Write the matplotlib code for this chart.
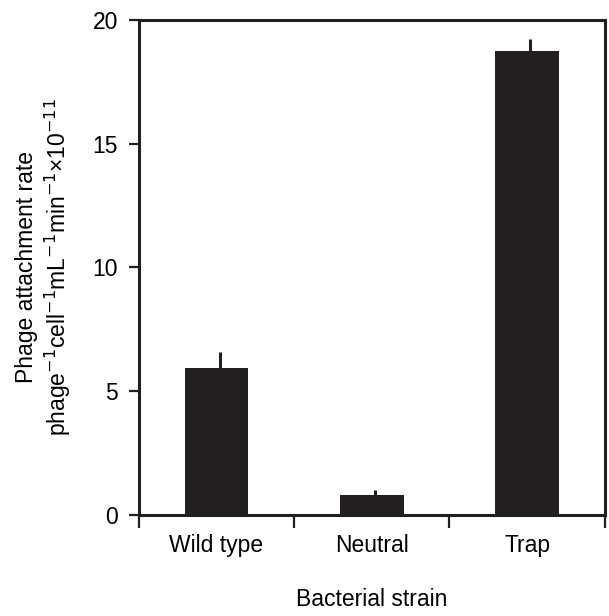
import numpy as np
import matplotlib.pyplot as plt

plt.rcParams['font.family'] = ['Liberation Sans', 'DejaVu Sans']

strains = ['Wild type', 'Neutral', 'Trap']
rates = [5.95, 0.8, 18.75]
errors = [0.65, 0.2, 0.48]

fig = plt.figure(figsize=(6.09, 6.16), dpi=100)
ax = fig.add_axes([0.228, 0.164, 0.765, 0.8035])

x = np.arange(len(strains))
ax.bar(x, rates, width=0.41, color='#231f20', zorder=2)
# upward-only error bars, no caps
ax.errorbar(x + 0.02, rates, yerr=[np.zeros(len(errors)), errors], fmt='none',
            ecolor='#231f20', elinewidth=2.2, capsize=0, zorder=1)

ax.set_xlim(-0.5, 2.5)
ax.set_ylim(0, 20)
ax.set_yticks([0, 5, 10, 15, 20])

ax.set_xticks([-0.5, 0.5, 1.5, 2.5])
ax.set_xticklabels([])
ax.set_xticks(x, minor=True)
ax.set_xticklabels(strains, minor=True)
ax.tick_params(axis='x', which='major', direction='out', length=9, width=1.6, color='#231f20')
ax.tick_params(axis='x', which='minor', length=0, pad=14, labelsize=16.5)
ax.tick_params(axis='y', direction='out', length=7, width=1.6, color='#231f20', labelsize=16.5, pad=8)

for s in ax.spines.values():
    s.set_linewidth(2.2)
    s.set_color('#231f20')

ax.set_xlabel('Bacterial strain', fontsize=16.5, labelpad=22)
ax.set_ylabel('Phage attachment rate\n'
              'phage$^{-1}$cell$^{-1}$mL$^{-1}$min$^{-1}$×10$^{-11}$',
              fontsize=16.5, labelpad=14, linespacing=1.2)

fig.savefig('out.png', dpi=100)
